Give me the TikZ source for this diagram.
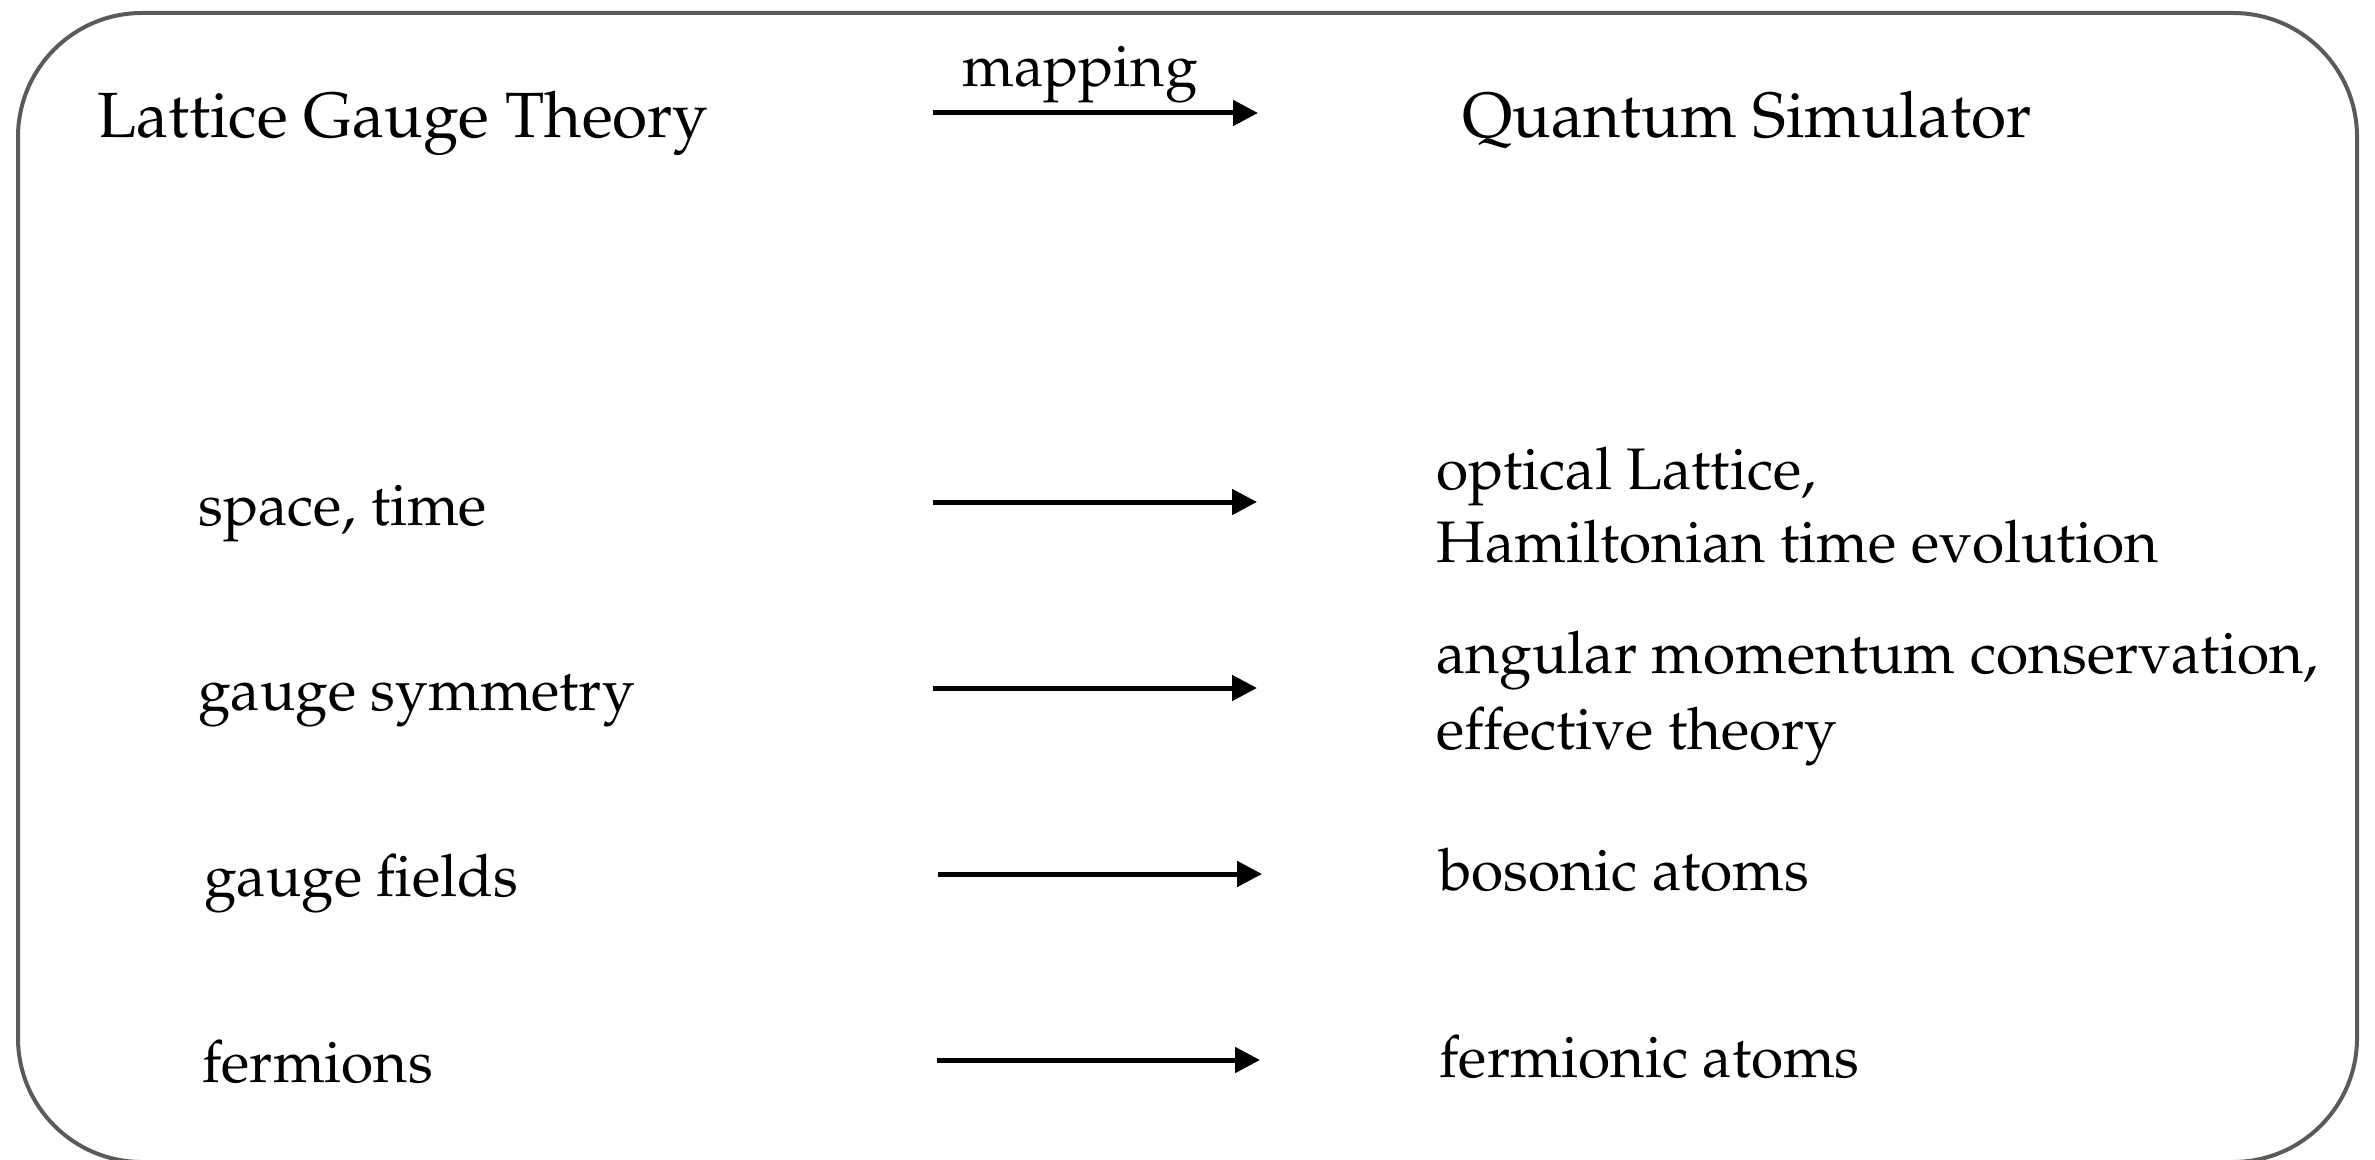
\documentclass[tikz,border=0pt]{standalone}
\usepackage[T1]{fontenc}
\usepackage{mathpazo}
\usetikzlibrary{arrows.meta}
\definecolor{framegray}{RGB}{92,90,86}
\tikzset{
  frame/.style={draw=framegray, line width=2pt, rounded corners=62pt},
  title/.style={anchor=base west, inner sep=0pt, font=\fontsize{32}{38}\selectfont},
  item/.style={anchor=base west, inner sep=0pt, font=\fontsize{29.3}{35}\selectfont},
  maparrow/.style={line width=2.5pt, -{Triangle[length=12.5pt,width=12.5pt]}}
}
\begin{document}
\begin{tikzpicture}[x=0.5pt,y=-0.5pt]
\useasboundingbox (0,0) rectangle (2375,1160);
\begin{scope}
\clip (0,0) rectangle (2375,1160);
\draw[frame] (18,13) rectangle (2357,1162);
\end{scope}
% headings
\node[title] (lgt) at (97,138) {Lattice Gauge Theory};
\node[title] (qs) at (1462,138) {Quantum Simulator};
\node[item] (map) at (962,87) {mapping};
% arrow end points
\coordinate (m0) at (933,113);  \coordinate (m1) at (1258,113);
\coordinate (a0) at (933,502);  \coordinate (a1) at (1257,502);
\coordinate (b0) at (933,688);  \coordinate (b1) at (1257,688);
\coordinate (c0) at (938,874);  \coordinate (c1) at (1262,874);
\coordinate (d0) at (937,1060); \coordinate (d1) at (1260,1060);
\draw[maparrow] (m0) -- (m1);
\draw[maparrow] (a0) -- (a1);
\draw[maparrow] (b0) -- (b1);
\draw[maparrow] (c0) -- (c1);
\draw[maparrow] (d0) -- (d1);
% left column
\node[item] (l1) at (198,525) {space, time};
\node[item] (l2) at (198,710) {gauge symmetry};
\node[item] (l3) at (204,896) {gauge fields};
\node[item] (l4) at (202,1082) {fermions};
% right column
\node[item] (r1a) at (1436,489) {optical Lattice,};
\node[item] (r1b) at (1436,562) {Hamiltonian time evolution};
\node[item] (r2a) at (1436,673) {angular momentum conservation,};
\node[item] (r2b) at (1436,749) {effective theory};
\node[item] (r3) at (1439,890) {bosonic atoms};
\node[item] (r4) at (1439,1077) {fermionic atoms};
\end{tikzpicture}
\end{document}
